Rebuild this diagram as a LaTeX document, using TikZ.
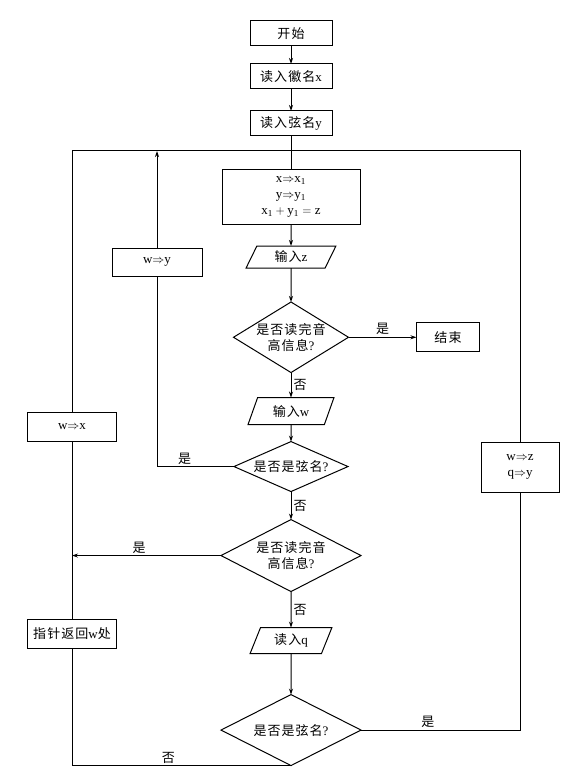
\documentclass[tikz,border=0pt]{standalone}
\usepackage{fontspec}
\setmainfont{Liberation Serif}
\newfontfamily\cjk[LetterSpace=8]{Noto Sans CJK SC}
\newcommand{\zh}[1]{{\cjk #1}}
\usetikzlibrary{shapes.geometric,positioning,arrows.meta}

\tikzset{
  procbox/.style={draw, rectangle, minimum width=82pt, minimum height=25pt, inner sep=2pt,
    outer sep=0pt, align=center},
  iobox/.style={draw, trapezium, trapezium left angle=70, trapezium right angle=110,
    trapezium stretches=true, minimum width=88pt, minimum height=24pt, inner sep=2pt, outer sep=0pt},
  decide/.style={draw, diamond, inner sep=0pt, outer sep=0pt, align=center},
  flow/.style={-{Stealth[length=6pt,width=4pt]}},
  lbl/.style={inner sep=2pt}
}

\begin{document}
\begin{tikzpicture}[line width=1pt, font=\fontsize{13}{16}\selectfont]
  \useasboundingbox (0,0) rectangle (576pt,-778pt);
  % main column
  \node[procbox] (start) at (291pt,-33.5pt) {\zh{开始}};
  \node[procbox, below=18pt of start] (readx) {\zh{读入徽名}x};
  \node[procbox, below=22pt of readx] (ready) {\zh{读入弦名}y};
  \node[procbox, below=34pt of ready, minimum width=138pt, minimum height=54pt] (calc)
    {x$\Rightarrow$x\textsubscript{1}\\ y$\Rightarrow$y\textsubscript{1}\\
     x\textsubscript{1}${}+{}$y\textsubscript{1}${}={}$z};
  \node[iobox, below=22pt of calc, minimum height=22pt, minimum width=90pt] (inz) {\zh{输入}z};
  \node[decide, below=34pt of inz, minimum width=114pt, minimum height=70pt, aspect=1.63] (ask1)
    {\zh{是否读完音}\\ \zh{高信息}?};
  \node[procbox, right=68pt of ask1, minimum width=63pt, minimum height=29pt] (stop) {\zh{结束}};
  \node[iobox, below=25pt of ask1, minimum height=27pt, minimum width=86pt] (inw) {\zh{输入}w};
  \node[decide, below=17pt of inw, minimum width=114pt, minimum height=50pt, aspect=2.28] (isstr1)
    {\zh{是否是弦名}?};
  \node[decide, below=28pt of isstr1, minimum width=140pt, minimum height=72pt, aspect=1.94] (ask2)
    {\zh{是否读完音}\\ \zh{高信息}?};
  \node[iobox, below=36pt of ask2, minimum height=26pt, minimum width=82pt] (readq) {\zh{读入}q};
  \node[decide, below=41pt of readq, minimum width=140pt, minimum height=71pt, aspect=1.97] (isstr2)
    {\zh{是否是弦名}?};
  % side boxes
  \node[procbox, minimum width=90pt, minimum height=28pt] (wy) at (157pt,-262pt) {w$\Rightarrow$y};
  \node[procbox, minimum width=89pt, minimum height=29pt] (wx) at (72pt,-427pt) {w$\Rightarrow$x};
  \node[procbox, minimum width=89pt, minimum height=29pt] (back) at (72pt,-634pt) {\zh{指针返回}w\zh{处}};
  \node[procbox, minimum width=78pt, minimum height=50pt] (wzq) at (520pt,-467pt)
    {w$\Rightarrow$z\\ q$\Rightarrow$y};
  \coordinate[below=15pt of ready.south] (loop);

  % connectors
  \draw[flow] (start) -- (readx);
  \draw[flow] (readx) -- (ready);
  \draw (ready) -- (calc);
  \draw[flow] (calc) -- (inz);
  \draw[flow] (inz) -- (ask1);
  \draw[flow] (ask1) -- node[lbl, above] {\zh{是}} (stop);
  \draw[flow] (ask1) -- node[lbl, right] {\zh{否}} (inw);
  \draw[flow] (inw) -- (isstr1);
  \draw (isstr1.west) -| node[lbl, above, pos=0.32] {\zh{是}} (wy.south);
  \draw[flow] (wy.north) -- (wy.north |- loop);
  \draw[flow] (isstr1) -- node[lbl, right] {\zh{否}} (ask2);
  \draw[flow] (ask2.west) -- node[lbl, above, pos=0.55] {\zh{是}} (ask2.west -| wx.south);
  \draw[flow] (ask2) -- node[lbl, right] {\zh{否}} (readq);
  \draw[flow] (readq) -- (isstr2);
  \draw (isstr2.east) -| node[lbl, above, pos=0.21] {\zh{是}} (wzq.south);
  \draw (wzq.north) |- (loop);
  \draw (isstr2.south) -| node[lbl, above, pos=0.28] {\zh{否}} (back.south);
  \draw (back.north) -- (wx.south);
  \draw (wx.north) |- (loop);
\end{tikzpicture}
\end{document}
